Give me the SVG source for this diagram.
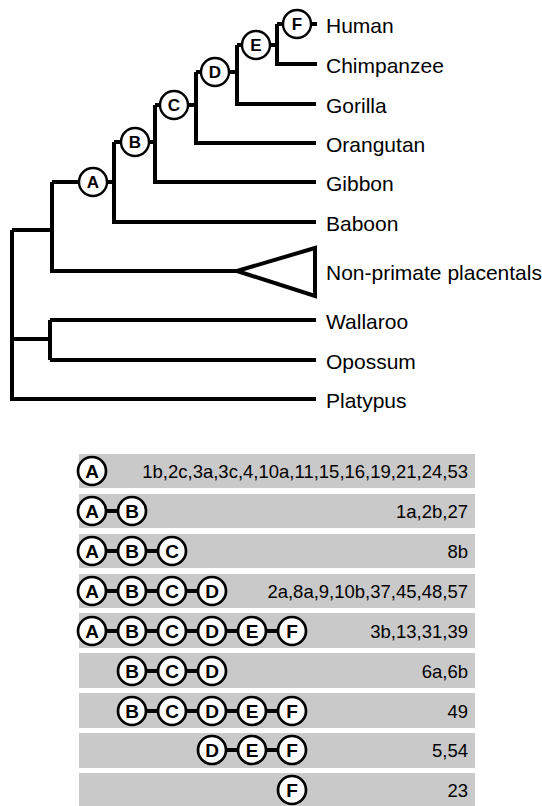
<svg xmlns="http://www.w3.org/2000/svg" width="542" height="806" viewBox="0 0 542 806">
  <style>
    .br { fill: none; stroke: #000; stroke-width: 4; stroke-linejoin: miter; stroke-linecap: butt; }
    .nd { fill: #fff; stroke: #000; stroke-width: 2.4; }
    .tn { fill: #fff; stroke: #000; stroke-width: 2.7; }
    .nl { font-family: "Liberation Sans", Arial, sans-serif; font-weight: bold; font-size: 17px; text-anchor: middle; fill: #000; }
    .tl { font-family: "Liberation Sans", Arial, sans-serif; font-weight: bold; font-size: 19px; text-anchor: middle; fill: #000; }
    .leaf { font-family: "Liberation Sans", Arial, sans-serif; font-size: 21px; fill: #000; }
    .band { fill: #c9c9c9; }
    .link { stroke: #000; stroke-width: 4; }
    .chars { font-family: "Liberation Sans", Arial, sans-serif; font-size: 18.5px; text-anchor: end; fill: #000; }
  </style>

  <rect width="542" height="806" fill="#fff"/>

  <!-- tree branches -->
  <g id="connectors">
    <path class="br" d="M12,230 V399 H316"/>
    <path class="br" d="M12,230 H52"/>
    <path class="br" d="M52,182 V271 H237"/>
    <path class="br" d="M237,271 L315,248 V296 Z"/>
    <path class="br" d="M52,182 H114"/>
    <path class="br" d="M114,142 V222 H316"/>
    <path class="br" d="M114,142 H155"/>
    <path class="br" d="M155,105 V182 H316"/>
    <path class="br" d="M155,105 H196"/>
    <path class="br" d="M196,72 V143 H316"/>
    <path class="br" d="M196,72 H237"/>
    <path class="br" d="M237,45 V104 H316"/>
    <path class="br" d="M237,45 H277"/>
    <path class="br" d="M277,24 V64 H317"/>
    <path class="br" d="M277,24 H317"/>
    <path class="br" d="M12,339 H50"/>
    <path class="br" d="M50,320 V360"/>
    <path class="br" d="M50,320 H316"/>
    <path class="br" d="M50,360 H316"/>
  </g>

  <!-- internal nodes -->
  <g id="node-A"><circle class="nd" cx="93" cy="182" r="14"/><text class="nl" x="93" y="188">A</text></g>
  <g id="node-B"><circle class="nd" cx="135" cy="142" r="14"/><text class="nl" x="135" y="148">B</text></g>
  <g id="node-C"><circle class="nd" cx="174" cy="105" r="14"/><text class="nl" x="174" y="111">C</text></g>
  <g id="node-D"><circle class="nd" cx="215" cy="72" r="14"/><text class="nl" x="215" y="78">D</text></g>
  <g id="node-E"><circle class="nd" cx="256" cy="45" r="14"/><text class="nl" x="256" y="51">E</text></g>
  <g id="node-F"><circle class="nd" cx="297" cy="24" r="14"/><text class="nl" x="297" y="30">F</text></g>

  <!-- leaves -->
  <g id="leaf-human"><text class="leaf" x="326" y="33">Human</text></g>
  <g id="leaf-chimpanzee"><text class="leaf" x="326" y="73">Chimpanzee</text></g>
  <g id="leaf-gorilla"><text class="leaf" x="326" y="113">Gorilla</text></g>
  <g id="leaf-orangutan"><text class="leaf" x="326" y="152">Orangutan</text></g>
  <g id="leaf-gibbon"><text class="leaf" x="326" y="191">Gibbon</text></g>
  <g id="leaf-baboon"><text class="leaf" x="326" y="231">Baboon</text></g>
  <g id="leaf-nonprimate"><text class="leaf" x="326" y="280">Non-primate placentals</text></g>
  <g id="leaf-wallaroo"><text class="leaf" x="326" y="329">Wallaroo</text></g>
  <g id="leaf-opossum"><text class="leaf" x="326" y="369">Opossum</text></g>
  <g id="leaf-platypus"><text class="leaf" x="326" y="408">Platypus</text></g>

  <!-- character table -->
  <g id="row-1">
    <rect class="band" x="79" y="454" width="396" height="34"/>
    <circle class="tn" cx="92" cy="471" r="14"/><text class="tl" x="92" y="478">A</text>
    <text class="chars" x="468" y="478">1b,2c,3a,3c,4,10a,11,15,16,19,21,24,53</text>
  </g>
  <g id="row-2">
    <rect class="band" x="79" y="494" width="396" height="34"/>
    <line class="link" x1="92" y1="511" x2="132" y2="511"/>
    <circle class="tn" cx="92" cy="511" r="14"/><text class="tl" x="92" y="518">A</text>
    <circle class="tn" cx="132" cy="511" r="14"/><text class="tl" x="132" y="518">B</text>
    <text class="chars" x="468" y="518">1a,2b,27</text>
  </g>
  <g id="row-3">
    <rect class="band" x="79" y="534" width="396" height="34"/>
    <line class="link" x1="92" y1="551" x2="172" y2="551"/>
    <circle class="tn" cx="92" cy="551" r="14"/><text class="tl" x="92" y="558">A</text>
    <circle class="tn" cx="132" cy="551" r="14"/><text class="tl" x="132" y="558">B</text>
    <circle class="tn" cx="172" cy="551" r="14"/><text class="tl" x="172" y="558">C</text>
    <text class="chars" x="468" y="558">8b</text>
  </g>
  <g id="row-4">
    <rect class="band" x="79" y="574" width="396" height="34"/>
    <line class="link" x1="92" y1="591" x2="212" y2="591"/>
    <circle class="tn" cx="92" cy="591" r="14"/><text class="tl" x="92" y="598">A</text>
    <circle class="tn" cx="132" cy="591" r="14"/><text class="tl" x="132" y="598">B</text>
    <circle class="tn" cx="172" cy="591" r="14"/><text class="tl" x="172" y="598">C</text>
    <circle class="tn" cx="212" cy="591" r="14"/><text class="tl" x="212" y="598">D</text>
    <text class="chars" x="468" y="598">2a,8a,9,10b,37,45,48,57</text>
  </g>
  <g id="row-5">
    <rect class="band" x="79" y="613" width="396" height="35"/>
    <line class="link" x1="92" y1="631" x2="292" y2="631"/>
    <circle class="tn" cx="92" cy="631" r="14"/><text class="tl" x="92" y="638">A</text>
    <circle class="tn" cx="132" cy="631" r="14"/><text class="tl" x="132" y="638">B</text>
    <circle class="tn" cx="172" cy="631" r="14"/><text class="tl" x="172" y="638">C</text>
    <circle class="tn" cx="212" cy="631" r="14"/><text class="tl" x="212" y="638">D</text>
    <circle class="tn" cx="252" cy="631" r="14"/><text class="tl" x="252" y="638">E</text>
    <circle class="tn" cx="292" cy="631" r="14"/><text class="tl" x="292" y="638">F</text>
    <text class="chars" x="468" y="638">3b,13,31,39</text>
  </g>
  <g id="row-6">
    <rect class="band" x="79" y="653" width="396" height="35"/>
    <line class="link" x1="132" y1="671" x2="212" y2="671"/>
    <circle class="tn" cx="132" cy="671" r="14"/><text class="tl" x="132" y="678">B</text>
    <circle class="tn" cx="172" cy="671" r="14"/><text class="tl" x="172" y="678">C</text>
    <circle class="tn" cx="212" cy="671" r="14"/><text class="tl" x="212" y="678">D</text>
    <text class="chars" x="468" y="678">6a,6b</text>
  </g>
  <g id="row-7">
    <rect class="band" x="79" y="693" width="396" height="35"/>
    <line class="link" x1="132" y1="711" x2="292" y2="711"/>
    <circle class="tn" cx="132" cy="711" r="14"/><text class="tl" x="132" y="718">B</text>
    <circle class="tn" cx="172" cy="711" r="14"/><text class="tl" x="172" y="718">C</text>
    <circle class="tn" cx="212" cy="711" r="14"/><text class="tl" x="212" y="718">D</text>
    <circle class="tn" cx="252" cy="711" r="14"/><text class="tl" x="252" y="718">E</text>
    <circle class="tn" cx="292" cy="711" r="14"/><text class="tl" x="292" y="718">F</text>
    <text class="chars" x="468" y="718">49</text>
  </g>
  <g id="row-8">
    <rect class="band" x="79" y="733" width="396" height="35"/>
    <line class="link" x1="212" y1="750" x2="292" y2="750"/>
    <circle class="tn" cx="212" cy="750" r="14"/><text class="tl" x="212" y="757">D</text>
    <circle class="tn" cx="252" cy="750" r="14"/><text class="tl" x="252" y="757">E</text>
    <circle class="tn" cx="292" cy="750" r="14"/><text class="tl" x="292" y="757">F</text>
    <text class="chars" x="468" y="757">5,54</text>
  </g>
  <g id="row-9">
    <rect class="band" x="79" y="773" width="396" height="34"/>
    <circle class="tn" cx="292" cy="790" r="14"/><text class="tl" x="292" y="797">F</text>
    <text class="chars" x="468" y="797">23</text>
  </g>
</svg>
